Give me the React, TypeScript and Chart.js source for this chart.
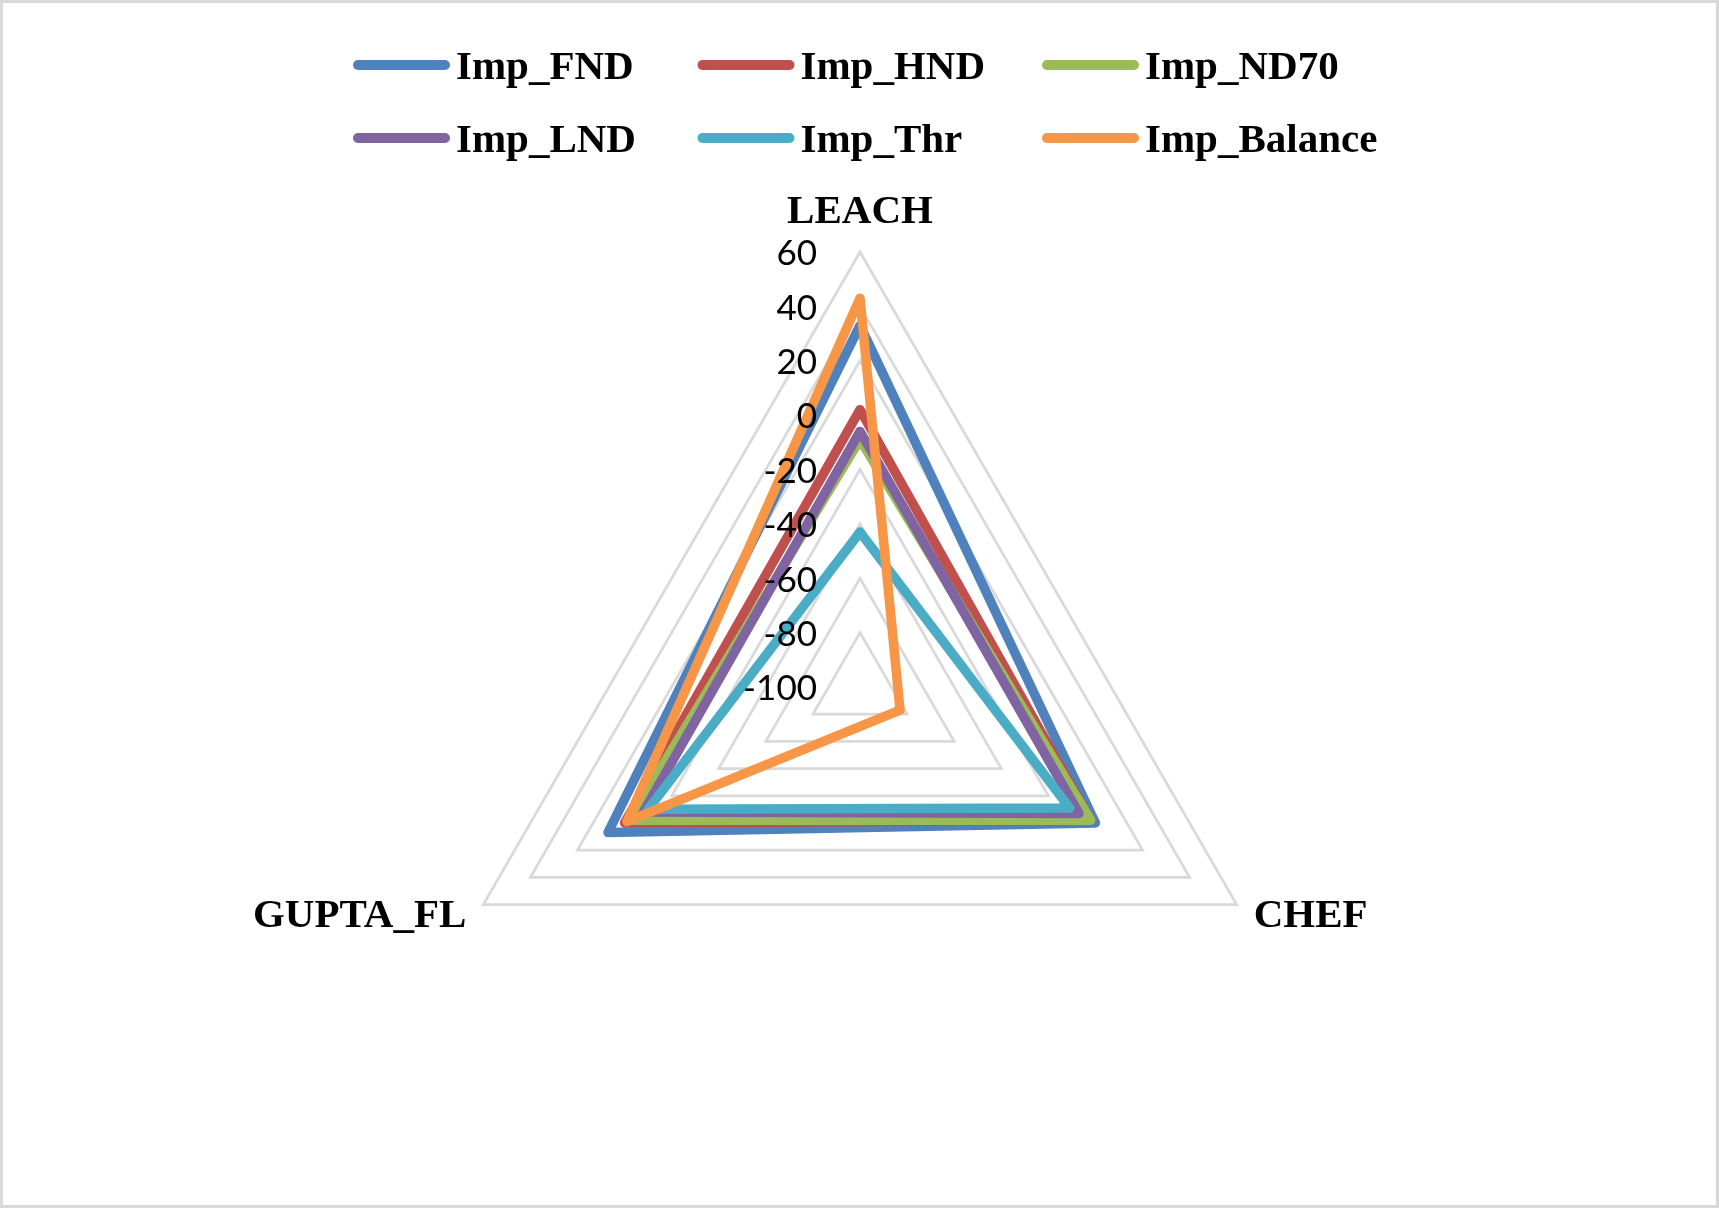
import { useEffect, useRef } from 'react';
import { Chart, registerables } from 'chart.js';

Chart.register(...registerables);

// ---- data ----
const categories = ['LEACH', 'CHEF', 'GUPTA_FL'];
const seriesNames = ['Imp_FND', 'Imp_HND', 'Imp_ND70', 'Imp_LND', 'Imp_Thr', 'Imp_Balance'];
const impFND = [33, 0, 7];
const impHND = [2, -2, 0];
const impND70 = [-9, -2, -2];
const impLND = [-6, -7, -8];
const impThr = [-43, -11, -10];
const impBalance = [43, -83, -1];
const seriesValues = [impFND, impHND, impND70, impLND, impThr, impBalance];
const seriesColors = ['#4F81BD', '#C0504D', '#9BBB59', '#8064A2', '#4BACC6', '#F79646'];
const axisMin = -100;
const axisMax = 60;
const axisStep = 20;

const SERIF = '"Liberation Serif", "Times New Roman", serif';
const SANS = 'Lato, "Open Sans", sans-serif';

const decorPlugin = {
  id: 'decor',
  beforeDraw(chart: any) {
    const { ctx, width, height } = chart;
    ctx.save();
    ctx.fillStyle = '#ffffff';
    ctx.fillRect(0, 0, width, height);
    ctx.restore();
  },
  afterDraw(chart: any) {
    const ctx = chart.ctx as CanvasRenderingContext2D;
    const scale = chart.scales.r;
    ctx.save();
    // outer border
    ctx.strokeStyle = '#d9d9d9';
    ctx.lineWidth = 3;
    ctx.strokeRect(1.5, 1.5, chart.width - 3, chart.height - 3);

    // tick labels
    ctx.font = `35px ${SANS}`;
    ctx.fillStyle = '#000000';
    ctx.textAlign = 'right';
    ctx.textBaseline = 'middle';
    scale.ticks.forEach((t: any) => {
      const d = scale.getDistanceFromCenterForValue(t.value);
      ctx.fillText(String(t.value), scale.xCenter - 43, scale.yCenter - d + 2);
    });

    // category labels
    ctx.font = `bold 41px ${SERIF}`;
    ctx.textBaseline = 'alphabetic';
    (chart.data.labels as string[]).forEach((lab, i) => {
      const p = scale.getPointPosition(i, scale.drawingArea);
      if (i === 0) {
        ctx.textAlign = 'center';
        ctx.fillText(lab, p.x, p.y - 29);
      } else if (p.x > scale.xCenter) {
        ctx.textAlign = 'left';
        ctx.fillText(lab, p.x + 17, p.y + 22);
      } else {
        ctx.textAlign = 'right';
        ctx.fillText(lab, p.x - 17, p.y + 22);
      }
    });

    // legend (3 columns x 2 rows)
    ctx.textAlign = 'left';
    chart.data.datasets.forEach((d: any, i: number) => {
      const col = i % 3;
      const row = Math.floor(i / 3);
      const x0 = 353 + col * 344.5;
      const y0 = 65 + row * 73;
      ctx.strokeStyle = d.borderColor;
      ctx.lineWidth = 10;
      ctx.lineCap = 'round';
      ctx.beginPath();
      ctx.moveTo(x0 + 5, y0);
      ctx.lineTo(x0 + 92, y0);
      ctx.stroke();
      ctx.fillStyle = '#000000';
      ctx.fillText(d.label, x0 + 103, y0 + 13.5);
    });
    ctx.restore();
  },
};

export default function App() {
  const ref = useRef<HTMLCanvasElement>(null);

  useEffect(() => {
    const canvas = ref.current;
    if (!canvas) return;
    const n = seriesNames.length;
    const chart = new Chart(canvas, {
      type: 'radar',
      data: {
        labels: categories,
        datasets: seriesNames.map((name, i) => ({
          label: name,
          data: seriesValues[i],
          borderColor: seriesColors[i],
          backgroundColor: seriesColors[i],
          borderWidth: 9.5,
          borderJoinStyle: 'round' as const,
          borderCapStyle: 'round' as const,
          pointRadius: 0,
          pointHoverRadius: 0,
          fill: false,
          tension: 0,
          order: n - 1 - i,
        })),
      },
      options: {
        responsive: false,
        animation: false,
        events: [],
        layout: { padding: { left: 425, right: 424, top: 252, bottom: 86 } },
        plugins: {
          legend: { display: false },
          tooltip: { enabled: false },
        },
        scales: {
          r: {
            min: axisMin,
            max: axisMax,
            beginAtZero: false,
            ticks: { stepSize: axisStep, display: false },
            grid: { color: '#d9d9d9', lineWidth: 2.75 },
            angleLines: { display: false },
            pointLabels: { display: false },
          },
        },
      },
      plugins: [decorPlugin],
    });
    return () => chart.destroy();
  }, []);

  return (
    <div style={{ position: 'absolute', left: 0, top: 0, width: 1719, height: 1208 }}>
      <canvas ref={ref} width={1719} height={1208} style={{ display: 'block' }} />
    </div>
  );
}
